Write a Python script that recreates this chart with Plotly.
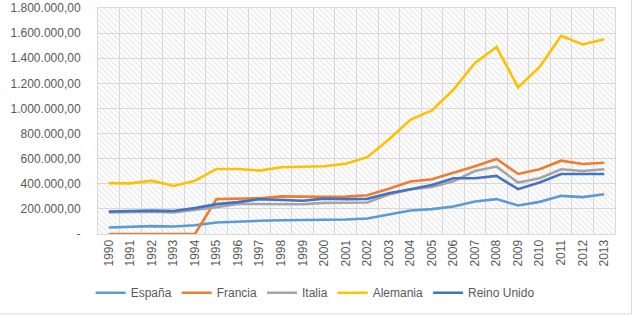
import plotly.graph_objects as go

years = list(range(1990, 2014))
year_labels = [str(y) for y in years]

espana = [52000, 57000, 63000, 60000, 70000, 92000, 100000, 105000, 110000, 112000,
          113000, 115000, 124000, 158000, 187000, 198000, 219000, 259000, 278000, 227000,
          256000, 304000, 294000, 317000]
francia = [0, 0, 0, 0, 0, 278000, 280000, 285000, 300000, 297000,
           296000, 298000, 308000, 360000, 418000, 436000, 486000, 540000, 598000, 478000,
           516000, 584000, 558000, 568000]
italia = [171000, 173000, 178000, 172000, 190000, 214000, 240000, 240000, 240000, 237000,
          248000, 248000, 251000, 315000, 355000, 375000, 420000, 502000, 537000, 410000,
          444000, 516000, 502000, 516000]
alemania = [405000, 403000, 425000, 383000, 423000, 518000, 518000, 505000, 532000, 534000,
            540000, 560000, 612000, 752000, 910000, 985000, 1150000, 1362000, 1489000, 1167000,
            1330000, 1579000, 1510000, 1552000]
reino_unido = [179000, 182000, 186000, 183000, 206000, 238000, 254000, 278000, 270000, 265000,
               282000, 278000, 280000, 325000, 357000, 390000, 444000, 444000, 463000, 357000,
               410000, 478000, 478000, 478000]

series_names = ["España", "Francia", "Italia", "Alemania", "Reino Unido"]
series_values = [espana, francia, italia, alemania, reino_unido]
series_colors = ["#5B9BD5", "#ED7D31", "#A5A5A5", "#FFC000", "#4472C4"]

y_tickvals = [0, 200000, 400000, 600000, 800000, 1000000, 1200000, 1400000, 1600000, 1800000]
y_ticktext = ["-", "200.000,00", "400.000,00", "600.000,00", "800.000,00", "1.000.000,00",
              "1.200.000,00", "1.400.000,00", "1.600.000,00", "1.800.000,00"]

FONT = "Liberation Sans"
TXT = "#595959"

x_lo = years[0] - 0.5
x_hi = years[-1] + 0.5
y_lo = y_tickvals[0]
y_hi = y_tickvals[-1]

fig = go.Figure()

# hatched plot-area background
fig.add_trace(go.Scatter(
    x=[x_lo, x_hi, x_hi, x_lo, x_lo], y=[y_lo, y_lo, y_hi, y_hi, y_lo],
    mode="lines", fill="toself", fillcolor="rgba(255,255,255,0.01)",
    fillpattern=dict(shape="\\", fgcolor="#d6d6d6", bgcolor="rgba(255,255,255,0)",
                     size=4, solidity=0.35),
    line=dict(width=0), showlegend=False, hoverinfo="skip"))

for name, vals, col in zip(series_names, series_values, series_colors):
    fig.add_trace(go.Scatter(x=years, y=vals, name=name, mode="lines",
                             line=dict(color=col, width=2.6)))

fig.update_layout(
    width=636, height=316,
    margin=dict(l=98, r=21, t=8, b=82, autoexpand=False),
    paper_bgcolor="white", plot_bgcolor="white",
    font=dict(family=FONT, size=12, color=TXT),
    xaxis=dict(range=[x_lo, x_hi], tickvals=years, ticktext=year_labels,
               showgrid=False, ticks="", tickangle=-90, automargin=False,
               minor=dict(tick0=x_lo, dtick=1, showgrid=True, gridcolor="#d9d9d9",
                          gridwidth=1, ticks=""),
               showline=True, linecolor="#d9d9d9", linewidth=1, mirror=True,
               tickfont=dict(family=FONT, size=12, color=TXT), zeroline=False),
    yaxis=dict(range=[y_lo, y_hi], tickvals=y_tickvals, ticktext=y_ticktext, showgrid=True,
               gridcolor="#d9d9d9", gridwidth=1, ticks="", zeroline=False, automargin=False,
               showline=True, linecolor="#d9d9d9", mirror=True,
               tickfont=dict(family=FONT, size=12, color=TXT), ticklabelstandoff=14),
    legend=dict(orientation="h", x=0.42, xanchor="center", y=-0.26, yanchor="middle",
                font=dict(family=FONT, size=12, color=TXT), bgcolor="rgba(0,0,0,0)"),
    shapes=[dict(type="rect", xref="paper", yref="paper", x0=-0.3, y0=-0.354,
                 x1=1.032, y1=1.2, line=dict(color="#d9d9d9", width=1), layer="below")],
    showlegend=True,
)

fig.write_html("out.html")
